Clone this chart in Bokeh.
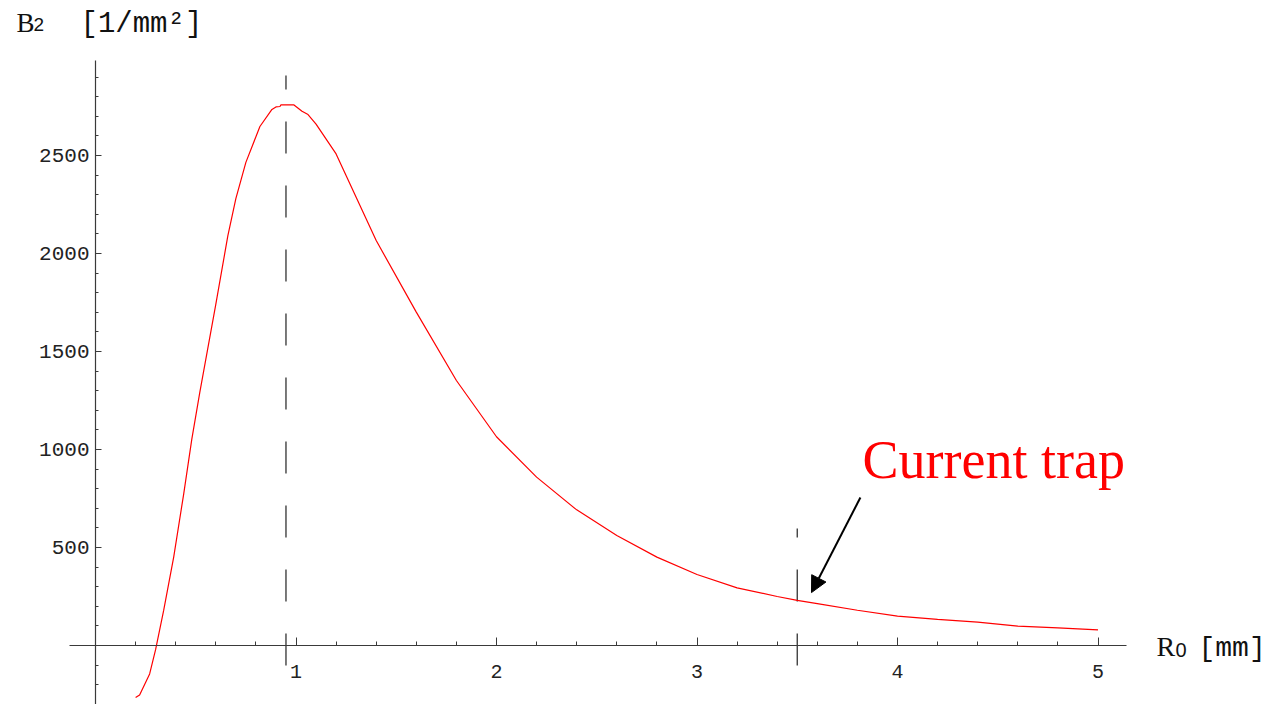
from bokeh.plotting import figure
from bokeh.models import Range1d, LinearAxis, FixedTicker, Arrow, NormalHead, Label
from bokeh.embed import file_html
from bokeh.resources import INLINE

# ---- data ----
r0 = [0.2, 0.22, 0.27, 0.3, 0.34, 0.39, 0.44, 0.48, 0.52, 0.6, 0.66, 0.7, 0.75,
      0.82, 0.88, 0.9, 0.92, 0.925, 0.99, 1.03, 1.06, 1.1, 1.2, 1.4, 1.6, 1.8,
      2.0, 2.2, 2.4, 2.6, 2.8, 3.0, 3.2, 3.4, 3.5, 3.6, 3.8, 4.0, 4.2, 4.4, 4.6,
      4.8, 5.0]
b2 = [-265, -252, -145, -20, 179, 451, 774, 1050, 1290, 1740, 2090, 2280, 2465,
      2648, 2735, 2748, 2750, 2758, 2758, 2726, 2709, 2660, 2508, 2066, 1701, 1352,
      1065, 859, 692, 561, 451, 362, 294, 250, 230, 214, 180, 150, 133, 119, 99,
      90, 80]
x_ticks = [1, 2, 3, 4, 5]
x_minor = [0.2, 0.4, 0.6, 0.8, 1.2, 1.4, 1.6, 1.8, 2.2, 2.4, 2.6, 2.8, 3.2, 3.4,
           3.6, 3.8, 4.2, 4.4, 4.6, 4.8]
y_ticks = [500, 1000, 1500, 2000, 2500]
y_minor = [-300, -200, -100, 100, 200, 300, 400, 600, 700, 800, 900, 1100, 1200,
           1300, 1400, 1600, 1700, 1800, 1900, 2100, 2200, 2300, 2400, 2600, 2700,
           2800, 2900]
peak_r0 = 0.95
trap_r0 = 3.5
annotation_text = "Current trap"

# ---- layout helpers (page pixel -> data) ----
X0, SX = 95.0, 200.5
Y0, SY = 645.0, 0.196
W, H = 1269, 704
OFF = 0  # page offset of the plot frame


def px(xp):
    return (xp - X0) / SX


def py(yp):
    return (Y0 - yp) / SY


p = figure(width=W, height=H,
           x_range=Range1d(px(OFF), px(OFF + W)), y_range=Range1d(py(OFF + H), py(OFF)),
           x_axis_type=None, y_axis_type=None, toolbar_location=None,
           output_backend="svg", min_border=0)
p.outline_line_color = None
p.background_fill_color = "white"

AX_COL = "#3a3a3a"
TICK_FONT = "Liberation Mono"

xaxis = LinearAxis(fixed_location=0,
                   ticker=FixedTicker(ticks=x_ticks, minor_ticks=x_minor),
                   bounds=(px(69), px(1126)),
                   axis_line_color=AX_COL, axis_line_width=1.2,
                   major_tick_line_color=AX_COL, minor_tick_line_color=AX_COL,
                   major_tick_in=8, major_tick_out=0,
                   minor_tick_in=4, minor_tick_out=0,
                   major_label_standoff=19,
                   major_label_text_font=TICK_FONT,
                   major_label_text_font_size="20px",
                   major_label_text_color="#222222")
p.add_layout(xaxis, "below")

yaxis = LinearAxis(fixed_location=0,
                   ticker=FixedTicker(ticks=y_ticks, minor_ticks=y_minor),
                   bounds=(py(720), py(60)),
                   axis_line_color=AX_COL, axis_line_width=1.2,
                   major_tick_line_color=AX_COL, minor_tick_line_color=AX_COL,
                   major_tick_in=6, major_tick_out=0,
                   minor_tick_in=3, minor_tick_out=0,
                   major_label_standoff=6,
                   major_label_text_font=TICK_FONT,
                   major_label_text_font_size="21px",
                   major_label_text_color="#222222")
p.add_layout(yaxis, "left")

# dashed reference lines
p.line([peak_r0, peak_r0], [-102, 2908], line_color="#333333", line_width=1.3,
       line_dash="32 32")
p.line([trap_r0, trap_r0], [-102, 597], line_color="#333333", line_width=1.3,
       line_dash="32 32")

# curve
p.line(r0, b2, line_color="#ff0000", line_width=1.2)

# arrow + annotation
p.add_layout(Arrow(end=NormalHead(size=16, fill_color="black", line_color="black"),
                   x_start=3.815, y_start=755, x_end=3.571, y_end=270,
                   line_color="black", line_width=2))
p.add_layout(Label(x=px(862), y=py(459), text=annotation_text,
                   text_font="Liberation Serif", text_font_size="54px",
                   text_color="#ff0000", text_baseline="alphabetic"))

# axis titles
p.add_layout(Label(x=px(16), y=py(22), text="B", text_font="Liberation Serif",
                   text_font_size="27px", text_color="#111111", text_baseline="alphabetic"))
p.add_layout(Label(x=px(33), y=py(24), text="2", text_font="Liberation Sans",
                   text_font_size="19px", text_color="#111111", text_baseline="alphabetic"))
p.add_layout(Label(x=px(80), y=py(24), text="[1/mm²]", text_font="Liberation Mono",
                   text_font_size="29px", text_color="#111111", text_baseline="alphabetic"))

p.add_layout(Label(x=px(1156), y=py(646), text="R", text_font="Liberation Serif",
                   text_font_size="28px", text_color="#111111", text_baseline="alphabetic"))
p.add_layout(Label(x=px(1175), y=py(649), text="0", text_font="Liberation Sans",
                   text_font_size="20px", text_color="#111111", text_baseline="alphabetic"))
p.add_layout(Label(x=px(1198), y=py(648), text="[mm]", text_font="Liberation Mono",
                   text_font_size="28px", text_color="#111111", text_baseline="alphabetic"))

open("out.html", "w").write(file_html(p, INLINE))
